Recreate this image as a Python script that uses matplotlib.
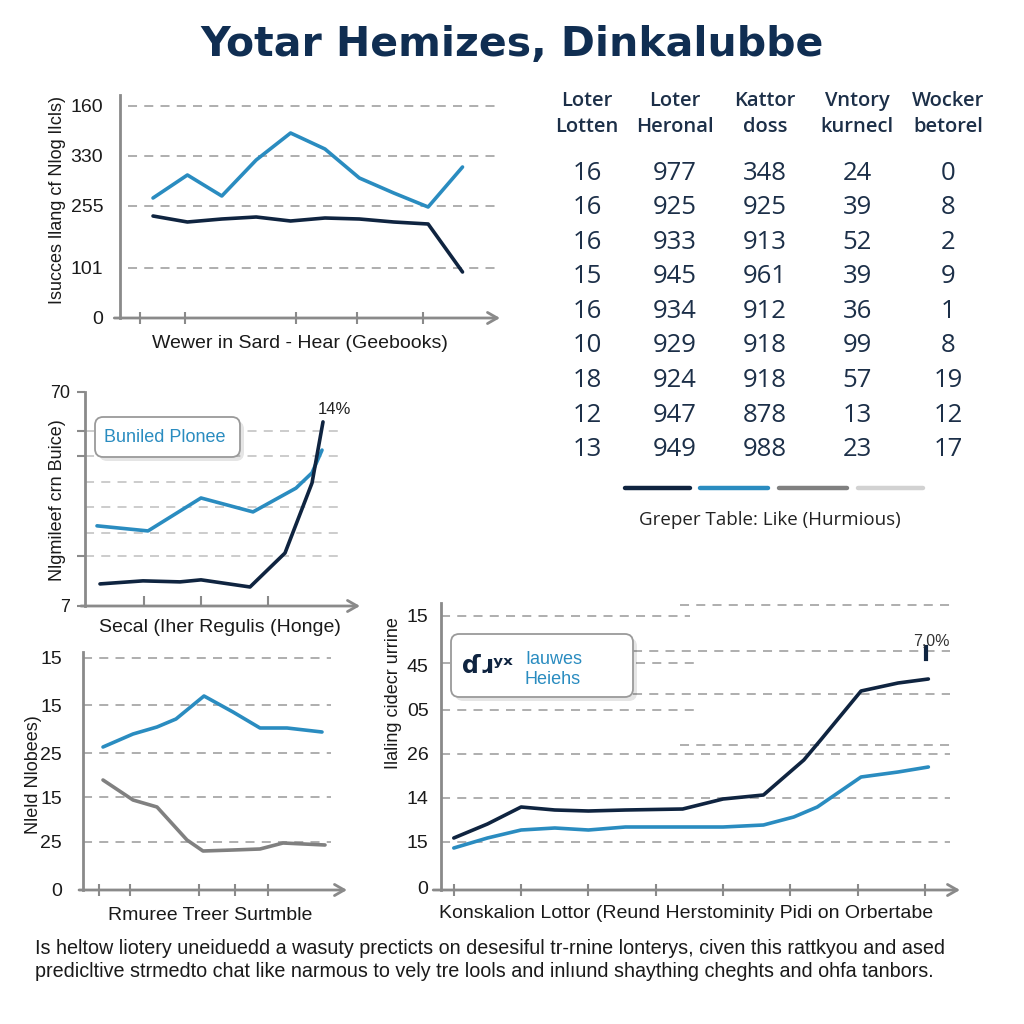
import matplotlib
matplotlib.use("Agg")
import matplotlib.pyplot as plt
from matplotlib.lines import Line2D
from matplotlib.patches import FancyBboxPatch

plt.rcParams['font.family'] = ['Liberation Sans', 'DejaVu Sans']

# ---------------- data ----------------
title = "Yotar Hemizes, Dinkalubbe"

# panel 1
p1_x = [0, 1, 2, 3, 4, 5, 6, 7, 8, 9]
p1_blue = [120, 143, 122, 158, 185, 169, 140, 125, 111, 151]
p1_dark = [102, 96, 99, 101, 97, 100, 99, 96, 94, 46]
p1_yticks = [0, 50, 112, 162, 212]
p1_ylabels = ["0", "101", "255", "330", "160"]
p1_xticks = [-0.38, 0.93, 4.16, 5.93, 7.85]

# panel 2
p2_dark_x = [1.5, 5.8, 9.5, 11.6, 16.5, 20.0, 22.7, 23.8]
p2_dark = [13.5, 14.4, 14.1, 14.7, 12.6, 22.6, 43.2, 61.2]
p2_blue_x = [1.2, 6.3, 11.6, 16.8, 21.1, 22.7, 23.7]
p2_blue = [30.6, 29.1, 38.8, 34.7, 41.7, 46.2, 52.9]
p2_yticks = [7, 21.7, 51.2, 58.5, 70]
p2_ylabels = ["7", "", "", "", "70"]
p2_grid = [21.7, 28.5, 36.1, 43.5, 51.2, 58.5]
p2_xticks = [5.9, 11.6, 18.3]

# panel 3
p3_blue_x = [2.0, 5.0, 7.4, 9.3, 12.1, 15.0, 17.7, 20.4, 23.9]
p3_blue = [143, 156, 163, 171, 194, 178, 162, 162, 158]
p3_gray_x = [2.0, 5.0, 7.4, 10.4, 12.0, 15.0, 17.7, 20.0, 24.2]
p3_gray = [110, 90, 83, 50, 39, 40, 41, 47, 45]
p3_yticks = [0, 48, 93, 137, 185, 232]
p3_ylabels = ["0", "25", "15", "25", "15", "15"]
p3_xticks = [1.6, 4.7, 11.6, 15.2, 18.5]

# panel 4
p4_dark_x = [0, 0.5, 1, 1.5, 2, 2.55, 3.4, 4, 4.6, 5.2, 5.45, 6.05, 6.6, 7.05]
p4_dark = [52, 66, 83, 80, 79, 80, 81, 91, 95, 130, 150, 199, 207, 211]
p4_blue_x = [0, 0.5, 1, 1.5, 2, 2.55, 3.05, 3.55, 4, 4.6, 5.05, 5.4, 6.05, 6.6, 7.05]
p4_blue = [42, 52, 60, 62, 60, 63, 63, 63, 63, 65, 73, 83, 113, 118, 123]
p4_yticks = [2, 48, 92, 136, 180, 225, 275]
p4_ylabels = ["0", "15", "14", "26", "05", "45", "15"]
p4_xticks = [0, 1, 2, 3, 4, 5, 6, 7]

# table
tbl_headers = ["Loter\nLotten", "Loter\nHeronal", "Kattor\ndoss", "Vntory\nkurnecl", "Wocker\nbetorel"]
tbl_c1 = [16, 16, 16, 15, 16, 10, 18, 12, 13]
tbl_c2 = [977, 925, 933, 945, 934, 929, 924, 947, 949]
tbl_c3 = [348, 925, 913, 961, 912, 918, 918, 878, 988]
tbl_c4 = [24, 39, 52, 39, 36, 99, 57, 13, 23]
tbl_c5 = [0, 8, 2, 9, 1, 8, 19, 12, 17]

body = ("Is heltow liotery uneiduedd a wasuty precticts on desesiful tr-rnine lonterys, civen this rattkyou and ased\n"
        "predicltive strmedto chat like narmous to vely tre lools and inlıund shaything cheghts and ohfa tanbors.")

# ---------------- style ----------------
NAVY = "#0f2440"
BLUE = "#2a8cc0"
GRAY = "#808080"
LGRAY = "#d2d2d2"
AX = "#8a8a8a"
TXT = "#1a1a1a"
W = H = 1024

fig = plt.figure(figsize=(10.24, 10.24), dpi=100)
fig.patch.set_facecolor("white")


def add_ax(l, t, r, b):
    return fig.add_axes([l / W, 1 - b / H, (r - l) / W, (b - t) / H])


def style_ax(ax):
    for s in ("top", "right", "bottom"):
        ax.spines[s].set_visible(False)
    ax.spines["left"].set_color(AX)
    ax.spines["left"].set_linewidth(2)
    ax.annotate("", xy=(1, 0), xytext=(-0.015, 0), xycoords="axes fraction",
                arrowprops=dict(arrowstyle="->,head_length=0.7,head_width=0.4",
                                color=AX, lw=2, shrinkA=0, shrinkB=0))
    ax.tick_params(axis="x", direction="inout", length=9, width=1.5, color=AX,
                   labelbottom=False)
    ax.patch.set_alpha(0)


def hgrid(ax, vals, color="#a8a8a8", xmin=0.02, xmax=0.99, lw=1.3):
    for v in vals:
        ax.axhline(v, xmin=xmin, xmax=xmax, color=color, lw=lw, ls=(0, (5, 4)), zorder=0)


def box(l, t, r, b):
    sh = FancyBboxPatch(((l + 4) / W, 1 - (b + 4) / H), (r - l) / W, (b - t) / H,
                        boxstyle="round,pad=0,rounding_size=0.008",
                        transform=fig.transFigure, facecolor="#000000", alpha=0.10,
                        edgecolor="none", zorder=5)
    bx = FancyBboxPatch((l / W, 1 - b / H), (r - l) / W, (b - t) / H,
                        boxstyle="round,pad=0,rounding_size=0.008",
                        transform=fig.transFigure, facecolor="white",
                        edgecolor="#9a9a9a", lw=1.3, zorder=6)
    fig.add_artist(sh)
    fig.add_artist(bx)


def ftext(x, y, s, **kw):
    return fig.text(x / W, 1 - y / H, s, **kw)


# title
ftext(512, 45, title, ha="center", va="center", fontsize=29.5, fontweight="bold",
      color="#102e52", family=["DejaVu Sans"])

# ---------------- panel 1 ----------------
ax1 = add_ax(120, 95, 500, 318)
style_ax(ax1)
ax1.set_xlim(-0.96, 10.09)
ax1.set_ylim(0, 223)
hgrid(ax1, p1_yticks[1:])
ax1.plot(p1_x, p1_blue, color=BLUE, lw=2.6, solid_capstyle="round")
ax1.plot(p1_x, p1_dark, color=NAVY, lw=2.6, solid_capstyle="round")
ax1.set_yticks(p1_yticks)
ax1.set_yticklabels(p1_ylabels)
ax1.tick_params(axis="y", length=0, pad=12, labelsize=14, labelcolor=TXT)
ax1.set_xticks(p1_xticks)
ftext(300, 343, "Wewer in Sard - Hear (Geebooks)", ha="center", va="center", fontsize=14, color=TXT)
ftext(57, 200, "Isucces llang cf Nlog lIcls)", ha="center", va="center", rotation=90, fontsize=13, color=TXT)

# ---------------- panel 2 ----------------
ax2 = add_ax(85, 392, 360, 606)
style_ax(ax2)
ax2.set_xlim(0, 27.5)
ax2.set_ylim(7, 70)
hgrid(ax2, p2_grid, color="#c8c8c8", xmin=0.0, xmax=0.93)
ax2.plot(p2_blue_x, p2_blue, color=BLUE, lw=2.6, solid_capstyle="round")
ax2.plot(p2_dark_x, p2_dark, color=NAVY, lw=2.6, solid_capstyle="round")
ax2.set_yticks(p2_yticks)
ax2.set_yticklabels(p2_ylabels)
ax2.tick_params(axis="y", direction="out", length=6, width=1.5, color=AX, pad=5,
                labelsize=13, labelcolor=TXT)
ax2.set_xticks(p2_xticks)
ax2.tick_params(axis="x", direction="in", length=7)
ax2.annotate("14%", xy=(p2_dark_x[-1], p2_dark[-1]), xytext=(8, 9), textcoords="offset points",
             ha="center", va="center", fontsize=12, color="#222222")
ftext(220, 628, "Secal (Iher Regulis (Honge)", ha="center", va="center", fontsize=14, color=TXT)
ftext(58, 500, "Nlgmileef crn Buice)", ha="center", va="center", rotation=90, fontsize=13, color=TXT)
box(95, 417, 240, 457)
t = ftext(104, 437, "Buniled Plonee", ha="left", va="center", fontsize=13, color=BLUE)
t.set_zorder(7)

# ---------------- panel 3 ----------------
ax3 = add_ax(83, 652, 347, 890)
style_ax(ax3)
ax3.set_xlim(0, 26.4)
ax3.set_ylim(0, 238)
hgrid(ax3, p3_yticks[1:], xmin=0.0, xmax=0.94)
ax3.plot(p3_blue_x, p3_blue, color=BLUE, lw=2.6, solid_capstyle="round")
ax3.plot(p3_gray_x, p3_gray, color=GRAY, lw=2.6, solid_capstyle="round")
ax3.set_yticks(p3_yticks)
ax3.set_yticklabels(p3_ylabels)
ax3.tick_params(axis="y", length=0, pad=15, labelsize=14, labelcolor=TXT)
ax3.set_xticks(p3_xticks)
ftext(210, 915, "Rmuree Treer Surtmble", ha="center", va="center", fontsize=14, color=TXT)
ftext(34, 775, "Nleld Nlobees)", ha="center", va="center", rotation=90, fontsize=13, color=TXT)

# ---------------- panel 4 ----------------
ax4 = add_ax(441, 603, 960, 890)
style_ax(ax4)
ax4.set_xlim(-0.19, 7.52)
ax4.set_ylim(0, 287)
# partial gridlines (value, xmin frac, xmax frac)
p4_grid = [(285, 0.46, 0.98), (274, 0.0, 0.48), (239, 0.37, 0.98), (227, 0.0, 0.49),
           (196, 0.37, 0.98), (180, 0.0, 0.49), (145, 0.46, 0.98), (136, 0.0, 0.98),
           (92, 0.0, 0.98), (48, 0.0, 0.98)]
for v, a, b in p4_grid:
    ax4.axhline(v, xmin=a, xmax=b, color="#a8a8a8", lw=1.3, ls=(0, (5, 4)), zorder=0)
ax4.plot(p4_blue_x, p4_blue, color=BLUE, lw=2.6, solid_capstyle="round")
ax4.plot(p4_dark_x, p4_dark, color=NAVY, lw=2.6, solid_capstyle="round")
ax4.plot([p4_dark_x[-1] - 0.03] * 2, [p4_dark[-1] + 20, p4_dark[-1] + 32], color=NAVY, lw=3)
ax4.annotate("7,0%", xy=(p4_dark_x[-1], p4_dark[-1]), xytext=(2, 27), textcoords="offset points",
             ha="center", va="center", fontsize=11.5, color="#333333")
ax4.set_yticks(p4_yticks)
ax4.set_yticklabels(p4_ylabels)
ax4.tick_params(axis="y", length=0, pad=9, labelsize=14, labelcolor=TXT)
ax4.set_xticks(p4_xticks)
ftext(686, 914, "Konskalion Lottor (Reund Herstominity Pidi on Orbertabe", ha="center", va="center",
      fontsize=14, color=TXT)
ftext(394, 693, "Ilaling cidecr urrine", ha="center", va="center", rotation=90, fontsize=13, color=TXT)
box(451, 634, 633, 697)
t = ftext(487, 666, "ɗɹʸˣ", ha="center", va="center", fontsize=17, color=NAVY,
          fontweight="bold", family=["DejaVu Sans"])
t.set_zorder(7)
t = ftext(525, 659, "Iauwes", ha="left", va="center", fontsize=13, color=BLUE)
t.set_zorder(7)
t = ftext(525, 679, "Heiehs", ha="left", va="center", fontsize=13, color=BLUE)
t.set_zorder(7)

# ---------------- table ----------------
col_x = [587, 675, 765, 857, 948]
cols = [tbl_c1, tbl_c2, tbl_c3, tbl_c4, tbl_c5]
for i, (cx, hdr, col) in enumerate(zip(col_x, tbl_headers, cols)):
    ftext(cx, 114, hdr, ha="center", va="center", fontsize=14.5, color="#1c2f48",
          linespacing=1.4, fontweight="semibold", family=["Open Sans", "DejaVu Sans"])
    for r, v in enumerate(col):
        ftext(cx, 173 + 34.6 * r, str(v), ha="center", va="center", fontsize=18.5,
              color="#1c2f48", family=["Open Sans", "DejaVu Sans"])

seg_colors = [NAVY, BLUE, GRAY, LGRAY]
seg_x = [(625, 690), (700, 768), (779, 847), (858, 923)]
for c, (a, b) in zip(seg_colors, seg_x):
    fig.add_artist(Line2D([a / W, b / W], [1 - 488 / H] * 2, transform=fig.transFigure,
                          color=c, lw=3.2, solid_capstyle="round"))
ftext(770, 520, "Greper Table: Like (Hurmious)", ha="center", va="center", fontsize=13.5,
      color="#222222", family=["Open Sans", "DejaVu Sans"])

# ---------------- body text ----------------
ftext(35, 960, body, ha="left", va="center", fontsize=14.2, color="#1a1a1a", linespacing=1.3)

fig.savefig("out.png", dpi=100, facecolor="white")
